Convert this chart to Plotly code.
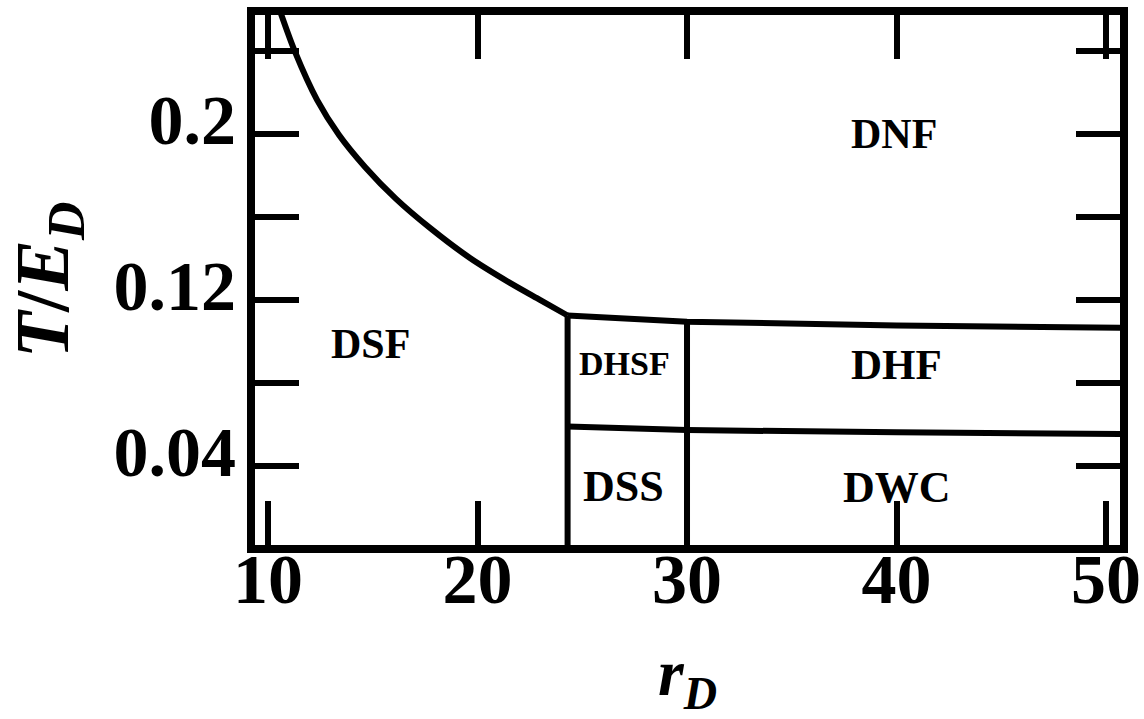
import plotly.graph_objects as go

# Phase boundary between DSF (low r_D) and DNF (high temperature)
r_boundary = [10.57, 11.29, 12.34, 13.39, 14.63, 16.11, 17.73, 19.64, 21.55, 22.98, 24.3]
t_boundary = [0.2593, 0.2395, 0.2164, 0.1995, 0.1841, 0.1687, 0.1547, 0.1402, 0.1282, 0.1200, 0.1125]

# Upper (normal-fluid) and lower (solid) boundaries for r_D >= 24.3
r_upper = [24.3, 30.0, 40.0, 51.0]
t_upper = [0.1125, 0.1095, 0.1077, 0.1065]
r_lower = [24.3, 30.0, 40.0, 51.0]
t_lower = [0.0590, 0.0573, 0.0562, 0.0554]

# Vertical phase walls and the temperature where each one ends
r_walls = [24.3, 30.0]
t_wall_tops = [0.1125, 0.1095]

# Region names and their centres (r_D, T/E_D)
phase_names = ["DNF", "DSF", "DHSF", "DHF", "DSS", "DWC"]
phase_r = [39.9, 14.9, 27.0, 40.0, 26.95, 40.0]
phase_t = [0.200, 0.099, 0.0892, 0.0887, 0.0299, 0.0294]

# Axis ticks: labelled and unlabelled temperature ticks
x_ticks = [10, 20, 30, 40, 50]
y_ticks = [0.04, 0.12, 0.20]
y_tick_text = ["0.04", "0.12", "0.2"]
y_minor_ticks = [0.08, 0.16, 0.24]

FONT = "Liberation Serif"
LINE = dict(color="black", width=6)
label_sizes = {"DHSF": 34, "DSS": 44, "DWC": 44, "DHF": 43}

fig = go.Figure()

fig.add_trace(go.Scatter(x=r_boundary, y=t_boundary, mode="lines",
                         line=dict(LINE, shape="spline", smoothing=0.8),
                         showlegend=False, hoverinfo="skip"))
fig.add_trace(go.Scatter(x=r_upper, y=t_upper, mode="lines", line=LINE,
                         showlegend=False, hoverinfo="skip"))
fig.add_trace(go.Scatter(x=r_lower, y=t_lower, mode="lines", line=LINE,
                         showlegend=False, hoverinfo="skip"))
for r, top in zip(r_walls, t_wall_tops):
    fig.add_trace(go.Scatter(x=[r, r], y=[-0.01, top], mode="lines", line=LINE,
                             showlegend=False, hoverinfo="skip"))

for name, r, t in zip(phase_names, phase_r, phase_t):
    fig.add_annotation(x=r, y=t, text=name, showarrow=False,
                       font=dict(family=FONT, size=label_sizes.get(name, 42),
                                 color="black", weight="bold"))

axis_common = dict(
    showline=True, linewidth=8, linecolor="black", mirror="ticks",
    ticks="inside", ticklen=44, tickwidth=6, tickcolor="black",
    showgrid=False, zeroline=False, automargin=False,
    tickfont=dict(family=FONT, size=70, color="black", weight="bold"),
)

fig.update_layout(
    width=1144, height=719,
    margin=dict(l=255, r=24, t=15, b=174, autoexpand=False),
    paper_bgcolor="white", plot_bgcolor="white",
    xaxis=dict(axis_common, range=[9.379, 50.668], tickvals=x_ticks,
               ticklabelstandoff=-34,
               title=dict(text="<i>r</i><sub><i>D</i></sub>", standoff=55,
                          font=dict(family=FONT, size=66, color="black", weight="bold"))),
    yaxis=dict(axis_common, range=[0.0019, 0.2573], tickvals=y_ticks,
               ticktext=y_tick_text, ticklabelstandoff=-3, ticklabelshift=-14,
               minor=dict(tickvals=y_minor_ticks, ticks="inside", ticklen=44,
                          tickwidth=6, tickcolor="black", showgrid=False),
               title=dict(text="<i>T</i>/<i>E</i><sub><i>D</i></sub>", standoff=40,
                          font=dict(family=FONT, size=76, color="black", weight="bold"))),
)

fig.write_html("out.html")
